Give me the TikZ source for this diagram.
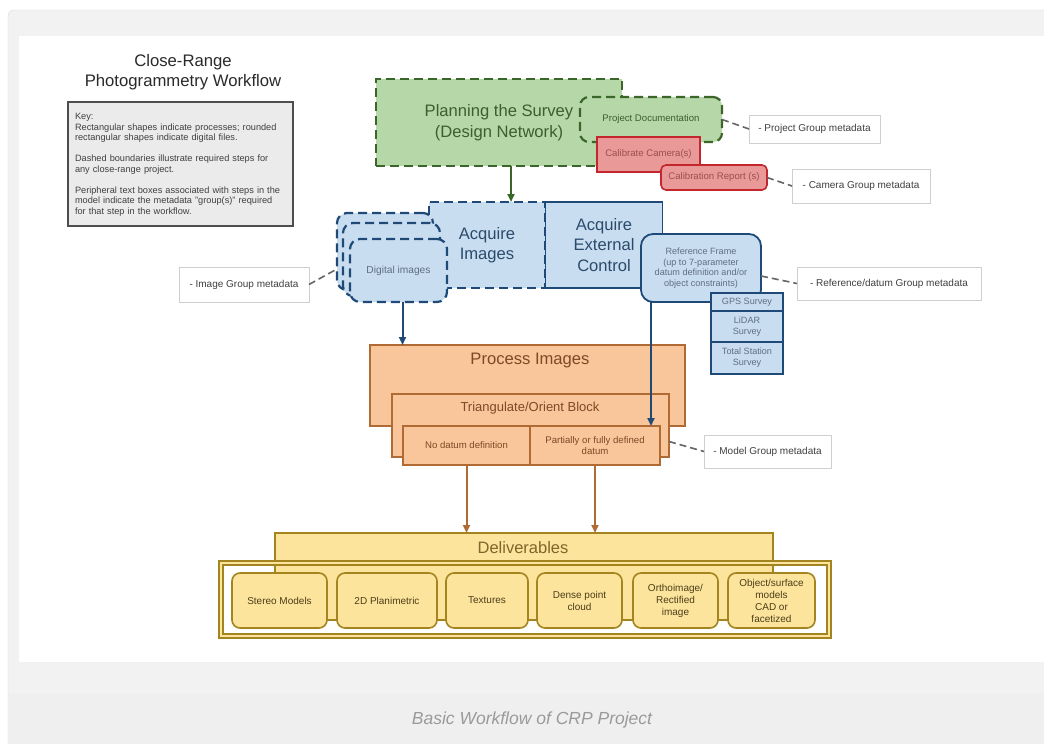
\documentclass[tikz,border=0pt]{standalone}
\usepackage{fontspec}
\setmainfont{Liberation Sans}
\usetikzlibrary{arrows.meta}

\definecolor{panelgray}{HTML}{F2F2F2}
\definecolor{panelline}{HTML}{DADADA}
\definecolor{captiongray}{HTML}{EFEFEF}
\definecolor{capink}{HTML}{9A9A9A}
\definecolor{titleink}{HTML}{2A2A2A}
\definecolor{keyfill}{HTML}{EBEBEB}
\definecolor{keyline}{HTML}{4D4D4D}
\definecolor{keyink}{HTML}{404040}
\definecolor{grnfill}{HTML}{B6D7A8}
\definecolor{grnline}{HTML}{3B6629}
\definecolor{grnink}{HTML}{3D5F2C}
\definecolor{redfill}{HTML}{EA9999}
\definecolor{redline}{HTML}{C4262E}
\definecolor{redink}{HTML}{9B4F4F}
\definecolor{bluefill}{HTML}{C9DDF1}
\definecolor{blueline}{HTML}{1F4A78}
\definecolor{blueink}{HTML}{2B4B6B}
\definecolor{refink}{HTML}{5E6F80}
\definecolor{orgfill}{HTML}{F9C59A}
\definecolor{orgline}{HTML}{B06A33}
\definecolor{orgink}{HTML}{7B4A26}
\definecolor{yelfill}{HTML}{FCE49C}
\definecolor{yelline}{HTML}{A3841F}
\definecolor{yelink}{HTML}{80662A}
\definecolor{metaline}{HTML}{CFCFCF}
\definecolor{metaink}{HTML}{3F3F3F}
\definecolor{linkgray}{HTML}{666666}

\tikzset{
  every node/.style={inner sep=0pt, outer sep=0pt, align=center},
  bigtext/.style={font=\fontsize{16.6}{20.5}\selectfont},
  smalltext/.style={font=\fontsize{9.6}{11}\selectfont},
  keybox/.style={fill=keyfill, draw=keyline, line width=1.8pt},
  keytext/.style={font=\fontsize{9.2}{10.5}\selectfont, text=keyink, align=left, text width=216pt},
  greenbox/.style={fill=grnfill, draw=grnline, line width=2.2pt, dash pattern=on 9pt off 5pt},
  redbox/.style={fill=redfill, draw=redline, line width=1.6pt, text=redink, smalltext},
  bluedash/.style={fill=bluefill, draw=blueline, line width=2.2pt, dash pattern=on 9pt off 5pt, text=blueink},
  bluebox/.style={fill=bluefill, draw=blueline, line width=1.8pt, text=blueink},
  surveybox/.style={fill=bluefill, draw=blueline, line width=1.5pt, text=refink, font=\fontsize{9.1}{11}\selectfont},
  orangebox/.style={fill=orgfill, draw=orgline, line width=1.3pt, text=orgink},
  yellowbox/.style={fill=yelfill, draw=yelline, line width=1.5pt, text=yelink},
  itembox/.style={fill=yelfill, draw=yelline, line width=1.6pt, rounded corners=8pt,
    minimum height=55, text=yelink!60!black, font=\fontsize{10}{12}\selectfont},
  framedouble/.style={draw=yelline, line width=1.3pt, double=yelfill, double distance=2.6pt},
  metabox/.style={fill=white, draw=metaline, line width=1pt, text=metaink, font=\fontsize{10}{12}\selectfont},
  metalink/.style={draw=linkgray, line width=1.6pt, dash pattern=on 7pt off 4pt},
  flowarrow/.style={line width=2pt, -{Triangle[length=8pt,width=7pt]}},
}

\begin{document}
\begin{tikzpicture}[x=1pt,y=-1pt]
\useasboundingbox (0,0) rectangle (1044,744);
% page panel
\fill[white] (0,0) rectangle (1044,744);
\draw[panelline, fill=panelgray, rounded corners=6pt] (8,10) rectangle (1060,770);
\fill[white] (19,36) rectangle (1044,662);
\fill[captiongray] (9,693) rectangle (1044,744);

% title and key
\node[font=\fontsize{16.7}{20}\selectfont, text=titleink] (title) at (183,72) {Close-Range\\Photogrammetry Workflow};
\node[keybox, minimum width=225, minimum height=124] (key) at (180.5,164) {};
\node[keytext, anchor=north west] (keytxt) at (75,113.5) {Key:\\
Rectangular shapes indicate processes; rounded\\
rectangular shapes indicate digital files.\\[10.5pt]
Dashed boundaries illustrate required steps for\\
any close-range project.\\[10.5pt]
Peripheral text boxes associated with steps in the\\
model indicate the metadata "group(s)" required\\
for that step in the workflow.};

% planning
\node[greenbox, bigtext, text=grnink, minimum width=246, minimum height=87] (plan) at (499,122.5) {Planning the Survey\\(Design Network)};
\node[greenbox, rounded corners=9pt, minimum width=142, minimum height=45, text=grnink, smalltext] (projdoc) at (651,119.5) {Project Documentation};
\node[redbox, minimum width=103, minimum height=35] (calib) at (648.5,154.5) {Calibrate Camera(s)};
\node[redbox, rounded corners=5pt, minimum width=106, minimum height=25] (calrep) at (714,177.5) {Calibration Report (s)};
\node[metabox, minimum width=131, minimum height=28] (projmeta) at (814.5,129) {- Project Group metadata};
\node[metabox, minimum width=138, minimum height=34] (cammeta) at (861,186) {- Camera Group metadata};
\draw[metalink] (projdoc.east) -- (projmeta.west);
\draw[metalink] (calrep.east) -- (cammeta.west);

% acquisition
\node[bluedash, bigtext, minimum width=116, minimum height=86] (acqimg) at (487,245) {Acquire\\Images};
\node[bluebox, bigtext, minimum width=117, minimum height=86] (acqctl) at (604,245) {Acquire\\External\\Control};
\draw[flowarrow, grnline] ([xshift=12pt]plan.south) -- ([xshift=12pt]plan.south |- acqimg.north);
\node[bluedash, rounded corners=10pt, minimum width=96, minimum height=77] (imgs1) at (385,251.5) {};
\node[bluedash, rounded corners=10pt, minimum width=97, minimum height=73] (imgs2) at (391.5,259.5) {};
\node[bluedash, rounded corners=10pt, minimum width=97, minimum height=63, font=\fontsize{10.2}{12}\selectfont, text=refink] (imgs3) at (398.5,270.5) {Digital images};
\node[metabox, minimum width=130, minimum height=35] (imgmeta) at (244,284.5) {- Image Group metadata};
\draw[metalink] (imgmeta.east) -- (imgs1.200);

\node[bluebox, rounded corners=12pt, minimum width=120, minimum height=68, text=refink, font=\fontsize{9.1}{10.7}\selectfont] (refframe) at (701,268) {Reference Frame\\(up to 7-parameter\\datum definition and/or\\object constraints)};
\node[surveybox, minimum width=72, minimum height=18] (gps) at (747,302) {GPS Survey};
\node[surveybox, minimum width=72, minimum height=31] (lidar) at (747,326.5) {LiDAR\\Survey};
\node[surveybox, minimum width=72, minimum height=32] (total) at (747,358) {Total Station\\Survey};
\node[metabox, minimum width=184, minimum height=33] (refmeta) at (889,283.5) {- Reference/datum Group metadata};
\draw[metalink] ([yshift=-8pt]refframe.east) -- (refmeta.west);

% processing
\node[orangebox, minimum width=315, minimum height=81] (procimg) at (527.5,385.5) {};
\node[bigtext, text=orgink] (proctxt) at (530,361) {Process Images};
\node[orangebox, minimum width=277, minimum height=63] (tri) at (530.5,425.5) {};
\node[font=\fontsize{13}{15}\selectfont, text=orgink] (tritxt) at (530,408) {Triangulate/Orient Block};
\node[orangebox, smalltext, minimum width=127, minimum height=39] (nodatum) at (466.5,445.5) {No datum definition};
\node[orangebox, smalltext, minimum width=130, minimum height=39] (partial) at (595,445.5) {Partially or fully defined\\datum};
\node[metabox, minimum width=127, minimum height=33] (modelmeta) at (767.5,451.5) {- Model Group metadata};
\draw[metalink] ([yshift=-16pt]tri.east) -- (modelmeta.west);
\draw[flowarrow, blueline] ([xshift=4pt]imgs3.south) -- ([xshift=4pt]imgs3.south |- procimg.north);
\draw[flowarrow, blueline] ([xshift=-50pt]refframe.south) -- ([xshift=-50pt]refframe.south |- partial.north);

% deliverables
\node[fill=white, minimum width=608, minimum height=73] (delframe) at (525,599.5) {};
\node[yellowbox, minimum width=498, minimum height=87] (delhead) at (524,576.5) {};
\node[font=\fontsize{16.5}{19}\selectfont, text=yelink] (deltxt) at (523,548) {Deliverables};
\draw[framedouble] (delframe.north west) rectangle (delframe.south east);
\draw[flowarrow, orgline] (nodatum.south) -- (nodatum.south |- delhead.north);
\draw[flowarrow, orgline] (partial.south) -- (partial.south |- delhead.north);
\node[itembox, minimum width=95] (stereo) at (279.5,600.5) {Stereo Models};
\node[itembox, minimum width=100] (planim) at (387,600.5) {2D Planimetric};
\node[itembox, minimum width=82] (texture) at (487,600.5) {Textures};
\node[itembox, minimum width=85] (dense) at (579.5,600.5) {Dense point\\cloud};
\node[itembox, minimum width=85] (ortho) at (675.5,600.5) {Orthoimage/\\Rectified\\image};
\node[itembox, minimum width=87] (objsurf) at (771.5,600.5) {Object/surface\\models\\CAD or\\facetized};

% caption
\node[font=\itshape\fontsize{17.5}{20}\selectfont, text=capink] (caption) at (532,720) {Basic Workflow of CRP Project};
\end{tikzpicture}
\end{document}
